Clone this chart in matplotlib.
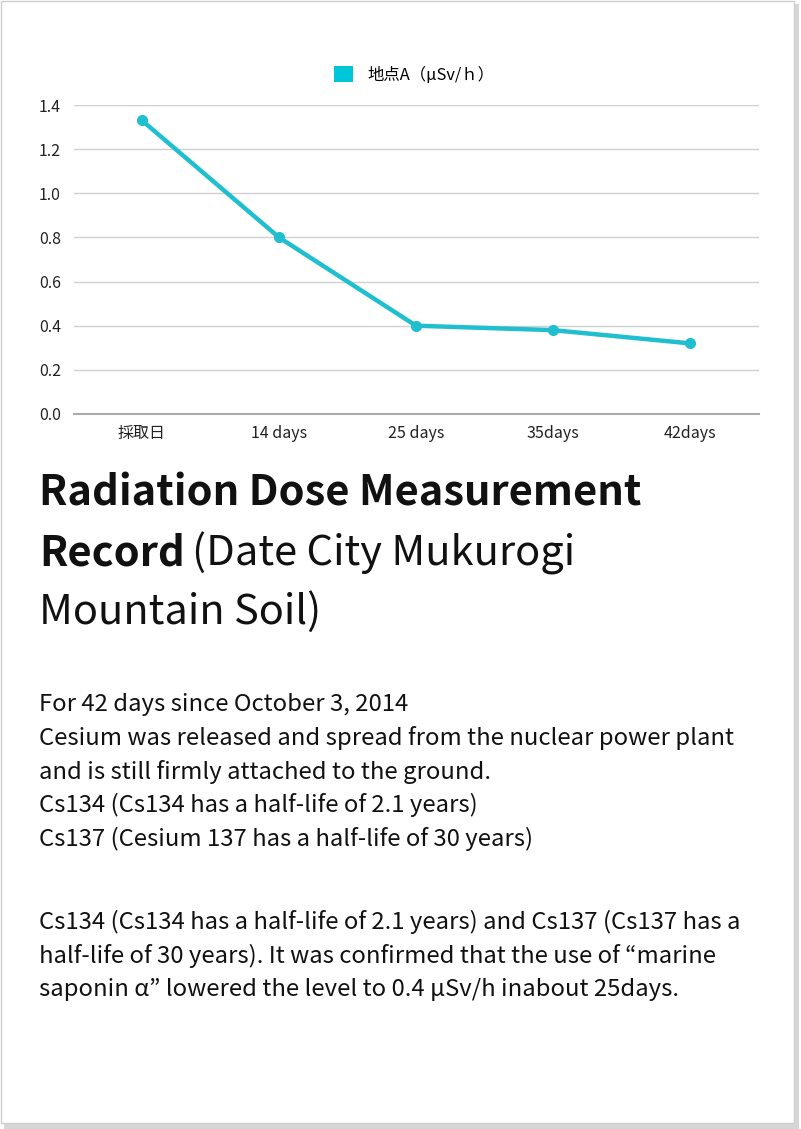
import matplotlib.pyplot as plt
from matplotlib.patches import Rectangle

plt.rcParams['font.family'] = ['Noto Sans CJK JP', 'DejaVu Sans']

labels = ["採取日", "14 days", "25 days", "35days", "42days"]
values = [1.33, 0.80, 0.40, 0.38, 0.32]
series_name = "地点A（μSv/ｈ）"
yticks = [0.0, 0.2, 0.4, 0.6, 0.8, 1.0, 1.2, 1.4]

W, H = 801, 1129
fig = plt.figure(figsize=(W / 100, H / 100), dpi=100)

# card with shadow
fig.patches.append(Rectangle((4 / W, 0), 795 / W, 1 - 4 / H, transform=fig.transFigure,
                             facecolor="#d6d6d6", edgecolor="none", zorder=-2))
fig.patches.append(Rectangle((1 / W, 6 / H), 793 / W, 1 - 7 / H, transform=fig.transFigure,
                             facecolor="white", edgecolor="#cfcfcf", lw=1, zorder=-1))

ax = fig.add_axes([73.5 / W, 1 - 414 / H, 685 / W, 309 / H])
ax.set_zorder(2)
ax.set_facecolor("none")
x = range(len(labels))
ax.plot(x, values, color="#1fbfcf", lw=3.2, marker="o", ms=7, label=series_name,
        solid_capstyle="round", clip_on=False)
ax.set_xlim(-0.5, len(labels) - 0.5)
ax.set_ylim(0, 1.4)
ax.set_yticks(yticks)
ax.set_yticklabels([f"{v:.1f}" for v in yticks])
ax.set_xticks(list(x))
ax.set_xticklabels(labels)
ax.grid(axis="y", color="#d0d0d0", lw=1)
ax.set_axisbelow(True)
for s in ["top", "right", "left"]:
    ax.spines[s].set_visible(False)
ax.spines["bottom"].set_color("#ababab")
ax.spines["bottom"].set_linewidth(1.5)
ax.tick_params(length=0, labelsize=11.5, colors="#222222", pad=8)
ax.tick_params(axis="y", pad=9)

handle = Rectangle((0, 0), 1, 1, facecolor="#00c6da", edgecolor="none")
fig.legend([handle], [series_name], loc="center", bbox_to_anchor=(414 / W, 1 - 75 / H),
           frameon=False, fontsize=11.8, handlelength=1.15, handleheight=1.15,
           handletextpad=0.9)

# title
fig.text(39 / W, 1 - 493 / H, "Radiation Dose Measurement", fontsize=30, fontweight="bold",
         va="center", ha="left", color="#111111")
t = fig.text(39 / W, 1 - 553 / H, "Record", fontsize=30, fontweight="bold",
             va="center", ha="left", color="#111111")
fig.canvas.draw()
bb = t.get_window_extent()
fig.text(bb.x1 / W + 7 / W, 1 - 553 / H, "(Date City Mukurogi", fontsize=30,
         va="center", ha="left", color="#111111")
fig.text(39 / W, 1 - 612 / H, "Mountain Soil)", fontsize=30,
         va="center", ha="left", color="#111111")

body1 = ["For 42 days since October 3, 2014",
         "Cesium was released and spread from the nuclear power plant",
         "and is still firmly attached to the ground.",
         "Cs134 (Cs134 has a half-life of 2.1 years)",
         "Cs137 (Cesium 137 has a half-life of 30 years)"]
body2 = ["Cs134 (Cs134 has a half-life of 2.1 years) and Cs137 (Cs137 has a",
         "half-life of 30 years). It was confirmed that the use of “marine",
         "saponin α” lowered the level to 0.4 μSv/h inabout 25days."]
for i, line in enumerate(body1):
    fig.text(39 / W, 1 - (704 + i * 33.8) / H, line, fontsize=17.2, va="center",
             ha="left", color="#111111")
for i, line in enumerate(body2):
    fig.text(39 / W, 1 - (922 + i * 33.8) / H, line, fontsize=17.2, va="center",
             ha="left", color="#111111")

fig.savefig("out.png", dpi=100)
